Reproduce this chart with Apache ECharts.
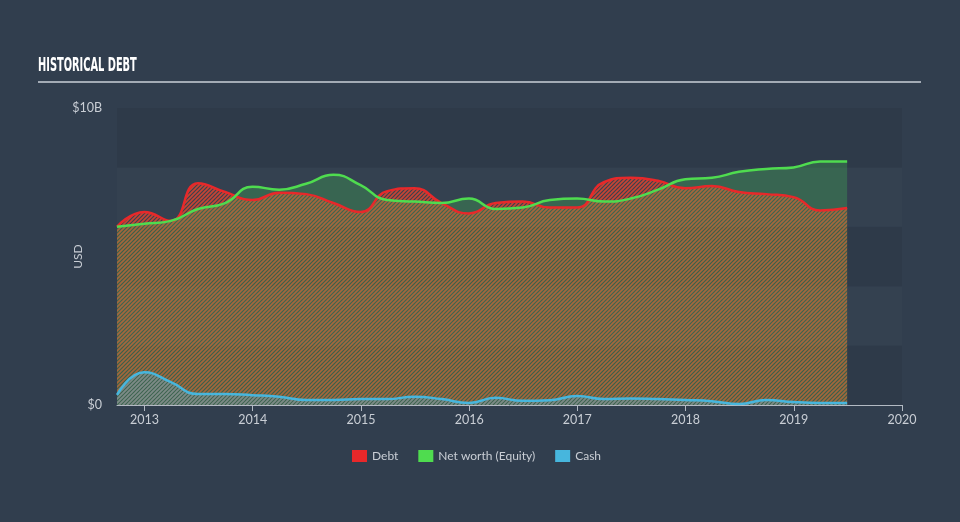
<!DOCTYPE html>
<html>
<head>
<meta charset="utf-8">
<script src="https://cdn.jsdelivr.net/npm/echarts@6/dist/echarts.min.js"></script>
<style>
html,body{margin:0;padding:0;width:960px;height:522px;overflow:hidden;background:#313e4e;}
#chart{width:960px;height:522px;}
</style>
</head>
<body>
<div id="chart"></div>
<script>
// ---- data (values in billions USD) ----
var dates = ['2012-09-30','2012-12-31','2013-03-31','2013-06-30','2013-09-30','2013-12-31','2014-03-31','2014-06-30','2014-09-30','2014-12-31','2015-03-31','2015-06-30','2015-09-30','2015-12-31','2016-03-31','2016-06-30','2016-09-30','2016-12-31','2017-03-31','2017-06-30','2017-09-30','2017-12-31','2018-03-31','2018-06-30','2018-09-30','2018-12-31','2019-03-31','2019-06-30'];
var debt = [6.0,6.5,6.2,7.47,7.17,6.9,7.15,7.1,6.8,6.5,7.2,7.3,6.8,6.45,6.8,6.85,6.65,6.65,7.5,7.65,7.55,7.3,7.37,7.17,7.1,7.0,6.55,6.63];
var equity = [6.0,6.1,6.2,6.6,6.8,7.35,7.25,7.45,7.75,7.4,6.9,6.85,6.8,6.95,6.6,6.65,6.9,6.95,6.85,6.95,7.25,7.6,7.65,7.85,7.95,8.0,8.2,8.2];
var cash = [0.34,1.1,0.77,0.37,0.37,0.33,0.28,0.17,0.17,0.2,0.2,0.28,0.2,0.07,0.24,0.14,0.16,0.3,0.2,0.22,0.2,0.17,0.13,0.03,0.17,0.1,0.07,0.07];
var yearTicks = [2013,2014,2015,2016,2017,2018,2019,2020];
var axisStart = '2012-09-30';
var axisEnd = '2020-01-01';
var seriesNames = ['Debt','Net worth (Equity)','Cash'];

// convert an ISO date to a fractional year
function fy(s){
  var p = s.split('-'), y = +p[0];
  var t = Date.UTC(y, +p[1]-1, +p[2]), a = Date.UTC(y,0,1), b = Date.UTC(y+1,0,1);
  return y + (t - a) / (b - a);
}
function pairs(vals){ return vals.map(function(v,i){ return [fy(dates[i]), v]; }); }

function hatch(stripe, base){
  var s = 4, c = document.createElement('canvas');
  c.width = s; c.height = s;
  var g = c.getContext('2d');
  if (base){ g.fillStyle = base; g.fillRect(0,0,s,s); }
  g.strokeStyle = stripe; g.lineWidth = 1.6;
  g.beginPath();
  g.moveTo(-1, s+1); g.lineTo(s+1, -1);
  g.moveTo(-1, 1); g.lineTo(1, -1);
  g.moveTo(s-1, s+1); g.lineTo(s+1, s-1);
  g.stroke();
  return c;
}

var chart = echarts.init(document.getElementById('chart'), null, {renderer:'canvas'});
var labelColor = '#c9ced5';
var font = 'Lato, "Open Sans", sans-serif';
var option = {
  backgroundColor: '#313e4e',
  animation: false,
  graphic: [
    {type:'text', x:38, y:57, scaleX:0.575, scaleY:1,
     style:{text:'HISTORICAL DEBT', fill:'#ffffff', font:'bold 19px "Liberation Sans Narrow", "DejaVu Sans Condensed", sans-serif', textVerticalAlign:'top'}},
    {type:'line', shape:{x1:38, y1:82, x2:921, y2:82}, style:{stroke:'#a3abb5', lineWidth:2}}
  ],
  grid: {left:117, right:58, top:108, bottom:117, containLabel:false},
  legend: {
    left: 347, top: 445,
    itemWidth: 15, itemHeight: 12, itemGap: 20,
    icon: 'rect',
    textStyle: {color: labelColor, fontSize: 12, fontFamily: font},
    data: seriesNames
  },
  xAxis: {
    type: 'value',
    min: fy(axisStart), max: fy(axisEnd),
    axisLine: {show:true, lineStyle:{color:'#b3bac3', width:1}},
    axisTick: {show:true, length:6, lineStyle:{color:'#b3bac3'}, customValues: yearTicks},
    axisLabel: {color: labelColor, fontSize: 12.5, fontFamily: font, margin: 8,
      customValues: yearTicks,
      formatter: function(v){ return String(Math.round(v)); }},
    splitLine: {show:false}
  },
  yAxis: {
    type: 'value', min: 0, max: 10, interval: 2,
    name: 'USD', nameLocation: 'middle', nameGap: 33, nameRotate: 90, nameMoveOverlap: false,
    nameTextStyle: {color: labelColor, fontSize: 12, fontFamily: font},
    axisLine: {show:false}, axisTick: {show:false},
    axisLabel: {color: labelColor, fontSize: 12.5, margin: 15, fontFamily: font,
      formatter: function(v){ return v === 0 ? '$0' : (v === 10 ? '$10B' : ''); }},
    splitLine: {show:false},
    splitArea: {show:true, areaStyle:{color:['#2e3a49','#344150']}}
  },
  series: [
    {name: seriesNames[0], type:'line', data: pairs(debt), smooth:0.5, symbol:'none',
     itemStyle:{color:'#e8282a'}, lineStyle:{color:'#e8282a', width:2.5},
     areaStyle:{color:{image: hatch('rgba(240,70,45,0.78)','rgba(236,60,50,0.06)'), repeat:'repeat'}, opacity:1}},
    {name: seriesNames[1], type:'line', data: pairs(equity), smooth:0.5, symbol:'none',
     itemStyle:{color:'#4fdc4f'}, lineStyle:{color:'#4fdc4f', width:2.5},
     areaStyle:{color:'rgba(70,200,85,0.27)', opacity:1}},
    {name: seriesNames[2], type:'line', data: pairs(cash), smooth:0.5, symbol:'none',
     itemStyle:{color:'#47b6dd'}, lineStyle:{color:'#47b6dd', width:2.5},
     areaStyle:{color:{image: hatch('rgba(80,180,220,0.45)','rgba(80,180,220,0.08)'), repeat:'repeat'}, opacity:1}}
  ]
};
chart.setOption(option);
</script>
</body>
</html>
